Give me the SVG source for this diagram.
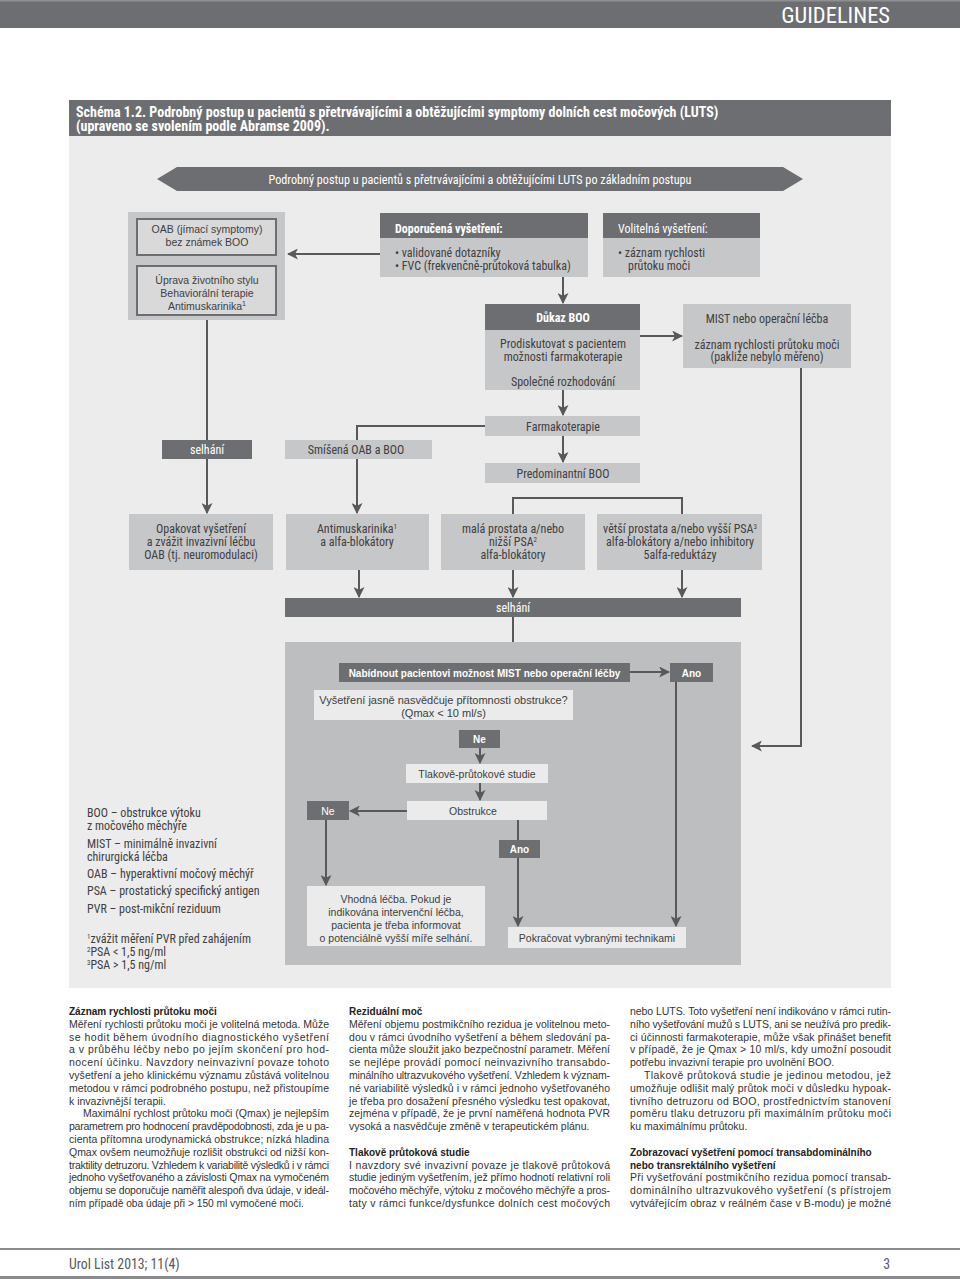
<svg xmlns="http://www.w3.org/2000/svg" width="960" height="1279" viewBox="0 0 960 1279">
<defs>
<marker id="ah" viewBox="0 0 10 10" refX="9" refY="5" markerWidth="11" markerHeight="11" markerUnits="userSpaceOnUse" orient="auto">
<path d="M0,0 L10,5 L0,10 L2.5,5 z" fill="#58595b"/>
</marker>
<style>
.dk{fill:#6d6e71}
.md{fill:#c6c7c9}
.lt{fill:#ebebeb}
.inb{fill:#d9d9da;stroke:#6d6e71;stroke-width:2}
.c{font-family:'Liberation Sans Narrow','Roboto Condensed','Liberation Sans',sans-serif;font-size:12px;fill:#404041}
.r{font-family:'Liberation Sans','Arial',sans-serif;font-size:10.5px;fill:#404041}
.m{text-anchor:middle}
.w{fill:#ffffff}
.bd{font-weight:bold}
.rb{font-size:10px;font-weight:bold}
.body{font-family:'Liberation Sans','Arial',sans-serif;font-size:10.5px;fill:#333333}
.ttl{font-family:'Liberation Sans','Arial',sans-serif;font-size:10px;fill:#222222;font-weight:bold}
.ln{fill:none;stroke:#58595b;stroke-width:2}
</style>
</defs>
<rect width="960" height="1279" fill="#ffffff"/>
<g id="header">
<rect x="0" y="0" width="960" height="28" class="dk"/>
<rect x="0" y="0" width="960" height="1.5" fill="#8e8f91"/>
<text x="890" y="23" class="c w" style="font-size:22.5px" text-anchor="end">GUIDELINES</text>
<rect x="69" y="100" width="822" height="36" class="dk"/>
<text x="76" y="116.5" class="c w bd" style="font-size:14px">Schéma 1.2. Podrobný postup u pacientů s přetrvávajícími a obtěžujícími symptomy dolních cest močových (LUTS)</text>
<text x="76" y="131" class="c w bd" style="font-size:14px">(upraveno se svolením podle Abramse 2009).</text>
</g>
<rect id="diagram-bg" x="69" y="136" width="822" height="852" fill="#ececec"/>
<rect id="mist-region" x="285" y="642" width="456" height="323" fill="#bdbec0"/>
<g id="banner">
<polygon points="157,179 177,167 783,167 803,179 783,191 177,191" class="dk"/>
<text x="480" y="183.5" class="c w m" style="font-size:12.2px">Podrobný postup u pacientů s přetrvávajícími a obtěžujícími LUTS po základním postupu</text>
</g>
<g id="connectors">
<path d="M380,254 L288,254" class="ln" marker-end="url(#ah)"/>
<path d="M207,255 L207,265" class="ln" marker-end="url(#ah)"/>
<path d="M563,277 L563,303" class="ln" marker-end="url(#ah)"/>
<path d="M640,336 L682,336" class="ln" marker-end="url(#ah)"/>
<path d="M801,368 L801,746 L752,746" class="ln" marker-end="url(#ah)"/>
<path d="M207,320 L207,440" class="ln"/>
<path d="M207,459 L207,513" class="ln" marker-end="url(#ah)"/>
<path d="M563,390 L563,415" class="ln" marker-end="url(#ah)"/>
<path d="M485,426 L357,426 L357,440" class="ln"/>
<path d="M357,459 L357,513" class="ln" marker-end="url(#ah)"/>
<path d="M563,436 L563,462" class="ln" marker-end="url(#ah)"/>
<path d="M513,514 L513,498 L682,498 L682,514" class="ln"/>
<path d="M359,570 L359,597" class="ln" marker-end="url(#ah)"/>
<path d="M513,570 L513,597" class="ln" marker-end="url(#ah)"/>
<path d="M682,570 L682,597" class="ln" marker-end="url(#ah)"/>
<path d="M513,617 L513,642" class="ln"/>
<path d="M630,672 L669,672" class="ln" marker-end="url(#ah)"/>
<path d="M676,682 L676,926" class="ln" marker-end="url(#ah)"/>
<path d="M480,748 L480,763" class="ln" marker-end="url(#ah)"/>
<path d="M480,783 L480,800" class="ln" marker-end="url(#ah)"/>
<path d="M407,811 L350,811" class="ln" marker-end="url(#ah)"/>
<path d="M326,820 L326,885" class="ln" marker-end="url(#ah)"/>
<path d="M518,820 L518,926" class="ln" marker-end="url(#ah)"/>
</g>
<g id="oab">
<rect x="128" y="212" width="157" height="108" class="md"/>
<rect x="137" y="219" width="139" height="36" class="inb"/>
<text x="207" y="233" class="r m">OAB (jímací symptomy)</text>
<text x="207" y="246" class="r m">bez známek BOO</text>
<rect x="137" y="266" width="139" height="49" class="inb"/>
<text x="207" y="284" class="r m">Úprava životního stylu</text>
<text x="207" y="297" class="r m">Behaviorální terapie</text>
<text x="207" y="310" class="r m">Antimuskarinika<tspan dy="-4" style="font-size:7px">1</tspan></text>
</g>
<g id="doporucena">
<rect x="380" y="213" width="208" height="25" class="dk"/>
<rect x="380" y="238" width="208" height="39" class="md"/>
<text x="395" y="233" class="c w bd">Doporučená vyšetření:</text>
<text x="395" y="257" class="c">• validované dotazníky</text>
<text x="395" y="270" class="c">• FVC (frekvenčně-průtoková tabulka)</text>
</g>
<g id="volitelna">
<rect x="603" y="213" width="157" height="25" class="dk"/>
<rect x="603" y="238" width="157" height="39" class="md"/>
<text x="618" y="233" class="c w">Volitelná vyšetření:</text>
<text x="618" y="257" class="c">• záznam rychlosti</text>
<text x="628" y="270" class="c">průtoku moči</text>
</g>
<g id="dukaz">
<rect x="485" y="304" width="155" height="26" class="dk"/>
<rect x="485" y="330" width="155" height="60" class="md"/>
<text x="563" y="322" class="c w bd m">Důkaz BOO</text>
<text x="563" y="348" class="c m">Prodiskutovat s pacientem</text>
<text x="563" y="361" class="c m">možnosti farmakoterapie</text>
<text x="563" y="386" class="c m">Společné rozhodování</text>
</g>
<g id="mist">
<rect x="683" y="304" width="168" height="64" class="md"/>
<text x="767" y="323" class="c m">MIST nebo operační léčba</text>
<text x="767" y="349" class="c m">záznam rychlosti průtoku moči</text>
<text x="767" y="361" class="c m">(pakliže nebylo měřeno)</text>
</g>
<g id="farmakoterapie">
<rect x="485" y="416" width="155" height="20" class="md"/>
<text x="563" y="431" class="c m">Farmakoterapie</text>
</g>
<g id="smisena">
<rect x="285" y="440" width="147" height="19" class="md"/>
<text x="356" y="454" class="c m">Smíšená OAB a BOO</text>
</g>
<g id="selhani1">
<rect x="162" y="440" width="90" height="19" class="dk"/>
<text x="207" y="454" class="c w m">selhání</text>
</g>
<g id="predominantni">
<rect x="485" y="463" width="155" height="20" class="md"/>
<text x="563" y="478" class="c m">Predominantní BOO</text>
</g>
<g id="opakovat">
<rect x="129" y="514" width="144" height="56" class="md"/>
<text x="201" y="533" class="c m">Opakovat vyšetření</text>
<text x="201" y="546" class="c m">a zvážit invazivní léčbu</text>
<text x="201" y="559" class="c m">OAB (tj. neuromodulaci)</text>
</g>
<g id="antimuskarinika">
<rect x="286" y="514" width="143" height="56" class="md"/>
<text x="357" y="533" class="c m">Antimuskarinika<tspan dy="-4" style="font-size:7px">1</tspan></text>
<text x="357" y="546" class="c m">a alfa-blokátory</text>
</g>
<g id="mala-prostata">
<rect x="441" y="514" width="144" height="56" class="md"/>
<text x="513" y="533" class="c m">malá prostata a/nebo</text>
<text x="513" y="546" class="c m">nižší PSA<tspan dy="-4" style="font-size:7px">2</tspan></text>
<text x="513" y="559" class="c m">alfa-blokátory</text>
</g>
<g id="vetsi-prostata">
<rect x="597" y="514" width="165" height="56" class="md"/>
<text x="680" y="533" class="c m">větší prostata a/nebo vyšší PSA<tspan dy="-4" style="font-size:7px">3</tspan></text>
<text x="680" y="546" class="c m">alfa-blokátory a/nebo inhibitory</text>
<text x="680" y="559" class="c m">5alfa-reduktázy</text>
</g>
<g id="selhani2">
<rect x="285" y="598" width="456" height="19" class="dk"/>
<text x="513" y="612" class="c w m">selhání</text>
</g>
<g id="nabidnout">
<rect x="339" y="663" width="291" height="19" class="dk"/>
<text x="484.5" y="676.5" class="r rb w m">Nabídnout pacientovi možnost MIST nebo operační léčby</text>
</g>
<g id="ano1">
<rect x="670" y="663" width="43" height="19" class="dk"/>
<text x="691.5" y="676.5" class="r rb w m">Ano</text>
</g>
<g id="vysetreni">
<rect x="314" y="690" width="259" height="30" class="lt"/>
<text x="443.5" y="704" class="r m" style="font-size:11px">Vyšetření jasně nasvědčuje přítomnosti obstrukce?</text>
<text x="443.5" y="717" class="r m" style="font-size:11px">(Qmax &lt; 10 ml/s)</text>
</g>
<g id="ne1">
<rect x="459" y="730" width="41" height="18" class="dk"/>
<text x="479.5" y="743" class="r rb w m">Ne</text>
</g>
<g id="tlakove">
<rect x="406" y="764" width="142" height="19" class="lt"/>
<text x="477" y="778" class="r m">Tlakově-průtokové studie</text>
</g>
<g id="obstrukce">
<rect x="407" y="801" width="140" height="19" class="lt"/>
<text x="473" y="815" class="r m">Obstrukce</text>
</g>
<g id="ne2">
<rect x="307" y="801" width="42" height="19" class="dk"/>
<text x="328" y="815" class="r w m">Ne</text>
</g>
<g id="ano2">
<rect x="499" y="840" width="41" height="18" class="dk"/>
<text x="519.5" y="853" class="r rb w m">Ano</text>
</g>
<g id="vhodna">
<rect x="307" y="886" width="178" height="60" class="lt"/>
<text x="396" y="903" class="r m">Vhodná léčba. Pokud je</text>
<text x="396" y="916" class="r m">indikována intervenční léčba,</text>
<text x="396" y="929" class="r m">pacienta je třeba informovat</text>
<text x="396" y="942" class="r m">o potenciálně vyšší míře selhání.</text>
</g>
<g id="pokracovat">
<rect x="508" y="927" width="178" height="21" class="lt"/>
<text x="597" y="942" class="r m">Pokračovat vybranými technikami</text>
</g>
<g id="legend" class="c">
<text x="87" y="817">BOO – obstrukce výtoku</text>
<text x="87" y="830">z močového měchýře</text>
<text x="87" y="848">MIST – minimálně invazivní</text>
<text x="87" y="861">chirurgická léčba</text>
<text x="87" y="878">OAB – hyperaktivní močový měchýř</text>
<text x="87" y="895">PSA – prostatický specifický antigen</text>
<text x="87" y="913">PVR – post-mikční reziduum</text>
<text x="87" y="943"><tspan dy="-4" style="font-size:7px">1</tspan><tspan dy="4">zvážit měření PVR před zahájením</tspan></text>
<text x="87" y="956"><tspan dy="-4" style="font-size:7px">2</tspan><tspan dy="4">PSA &lt; 1,5 ng/ml</tspan></text>
<text x="87" y="969"><tspan dy="-4" style="font-size:7px">3</tspan><tspan dy="4">PSA &gt; 1,5 ng/ml</tspan></text>
</g>
<g id="text-col1">
<text x="69" y="1015" class="ttl">Záznam rychlosti průtoku moči</text>
<text x="69" y="1027.8" class="body" textLength="260" lengthAdjust="spacing">Měření rychlosti průtoku moči je volitelná metoda. Může</text>
<text x="69" y="1040.6" class="body" textLength="260" lengthAdjust="spacing">se hodit během úvodního diagnostického vyšetření</text>
<text x="69" y="1053.4" class="body" textLength="260" lengthAdjust="spacing">a v průběhu léčby nebo po jejím skončení pro hod-</text>
<text x="69" y="1066.2" class="body" textLength="260" lengthAdjust="spacing">nocení účinku. Navzdory neinvazivní povaze tohoto</text>
<text x="69" y="1079" class="body" textLength="260" lengthAdjust="spacing">vyšetření a jeho klinickému významu zůstává volitelnou</text>
<text x="69" y="1091.8" class="body" textLength="260" lengthAdjust="spacing">metodou v rámci podrobného postupu, než přistoupíme</text>
<text x="69" y="1104.6" class="body">k invazivnější terapii.</text>
<text x="83" y="1117.4" class="body" textLength="246" lengthAdjust="spacing">Maximální rychlost průtoku moči (Qmax) je nejlepším</text>
<text x="69" y="1130.2" class="body" textLength="260" lengthAdjust="spacing">parametrem pro hodnocení pravděpodobnosti, zda je u pa-</text>
<text x="69" y="1143" class="body" textLength="260" lengthAdjust="spacing">cienta přítomna urodynamická obstrukce; nízká hladina</text>
<text x="69" y="1155.8" class="body" textLength="260" lengthAdjust="spacing">Qmax ovšem neumožňuje rozlišit obstrukci od nižší kon-</text>
<text x="69" y="1168.6" class="body" textLength="260" lengthAdjust="spacing">traktility detruzoru. Vzhledem k variabilitě výsledků i v rámci</text>
<text x="69" y="1181.4" class="body" textLength="260" lengthAdjust="spacing">jednoho vyšetřovaného a závislosti Qmax na vymočeném</text>
<text x="69" y="1194.2" class="body" textLength="260" lengthAdjust="spacing">objemu se doporučuje naměřit alespoň dva údaje, v ideál-</text>
<text x="69" y="1207" class="body" style="font-size:10.2px">ním případě oba údaje při &gt; 150 ml vymočené moči.</text>
</g>
<g id="text-col2">
<text x="349" y="1015" class="ttl">Reziduální moč</text>
<text x="349" y="1027.8" class="body" textLength="261" lengthAdjust="spacing">Měření objemu postmikčního rezidua je volitelnou meto-</text>
<text x="349" y="1040.6" class="body" textLength="261" lengthAdjust="spacing">dou v rámci úvodního vyšetření a během sledování pa-</text>
<text x="349" y="1053.4" class="body" textLength="261" lengthAdjust="spacing">cienta může sloužit jako bezpečnostní parametr. Měření</text>
<text x="349" y="1066.2" class="body" textLength="261" lengthAdjust="spacing">se nejlépe provádí pomocí neinvazivního transabdo-</text>
<text x="349" y="1079" class="body" textLength="261" lengthAdjust="spacing">minálního ultrazvukového vyšetření. Vzhledem k význam-</text>
<text x="349" y="1091.8" class="body" textLength="261" lengthAdjust="spacing">né variabilitě výsledků i v rámci jednoho vyšetřovaného</text>
<text x="349" y="1104.6" class="body" textLength="261" lengthAdjust="spacing">je třeba pro dosažení přesného výsledku test opakovat,</text>
<text x="349" y="1117.4" class="body" textLength="261" lengthAdjust="spacing">zejména v případě, že je první naměřená hodnota PVR</text>
<text x="349" y="1130.2" class="body">vysoká a nasvědčuje změně v terapeutickém plánu.</text>
<text x="349" y="1155.8" class="ttl">Tlakově průtoková studie</text>
<text x="349" y="1168.6" class="body" textLength="261" lengthAdjust="spacing">I navzdory své invazivní povaze je tlakově průtoková</text>
<text x="349" y="1181.4" class="body" textLength="261" lengthAdjust="spacing">studie jediným vyšetřením, jež přímo hodnotí relativní roli</text>
<text x="349" y="1194.2" class="body" textLength="261" lengthAdjust="spacing">močového měchýře, výtoku z močového měchýře a pros-</text>
<text x="349" y="1207" class="body" textLength="261" lengthAdjust="spacing">taty v rámci funkce/dysfunkce dolních cest močových</text>
</g>
<g id="text-col3">
<text x="630" y="1015" class="body" textLength="261" lengthAdjust="spacing">nebo LUTS. Toto vyšetření není indikováno v rámci rutin-</text>
<text x="630" y="1027.8" class="body" textLength="261" lengthAdjust="spacing">ního vyšetřování mužů s LUTS, ani se neužívá pro predik-</text>
<text x="630" y="1040.6" class="body" textLength="261" lengthAdjust="spacing">ci účinnosti farmakoterapie, může však přinášet benefit</text>
<text x="630" y="1053.4" class="body" textLength="261" lengthAdjust="spacing">v případě, že je Qmax &gt; 10 ml/s, kdy umožní posoudit</text>
<text x="630" y="1066.2" class="body">potřebu invazivní terapie pro uvolnění BOO.</text>
<text x="644" y="1079" class="body" textLength="247" lengthAdjust="spacing">Tlakově průtoková studie je jedinou metodou, jež</text>
<text x="630" y="1091.8" class="body" textLength="261" lengthAdjust="spacing">umožňuje odlišit malý průtok moči v důsledku hypoak-</text>
<text x="630" y="1104.6" class="body" textLength="261" lengthAdjust="spacing">tivního detruzoru od BOO, prostřednictvím stanovení</text>
<text x="630" y="1117.4" class="body" textLength="261" lengthAdjust="spacing">poměru tlaku detruzoru při maximálním průtoku moči</text>
<text x="630" y="1130.2" class="body">ku maximálnímu průtoku.</text>
<text x="630" y="1155.8" class="ttl">Zobrazovací vyšetření pomocí transabdominálního</text>
<text x="630" y="1168.6" class="ttl">nebo transrektálního vyšetření</text>
<text x="630" y="1181.4" class="body" textLength="261" lengthAdjust="spacing">Při vyšetřování postmikčního rezidua pomocí transab-</text>
<text x="630" y="1194.2" class="body" textLength="261" lengthAdjust="spacing">dominálního ultrazvukového vyšetření (s přístrojem</text>
<text x="630" y="1207" class="body" textLength="261" lengthAdjust="spacing">vytvářejícím obraz v reálném čase v B-modu) je možné</text>
</g>
<g id="footer">
<rect x="0" y="1248" width="960" height="2" fill="#8a8b8d"/>
<rect x="0" y="1276" width="960" height="3" fill="#8a8b8d"/>
<text x="69" y="1269" class="c" style="font-size:13.8px;fill:#58595b">Urol List 2013; 11(4)</text>
<text x="890" y="1269" class="c" style="font-size:13.8px;fill:#58595b" text-anchor="end">3</text>
</g>
</svg>
